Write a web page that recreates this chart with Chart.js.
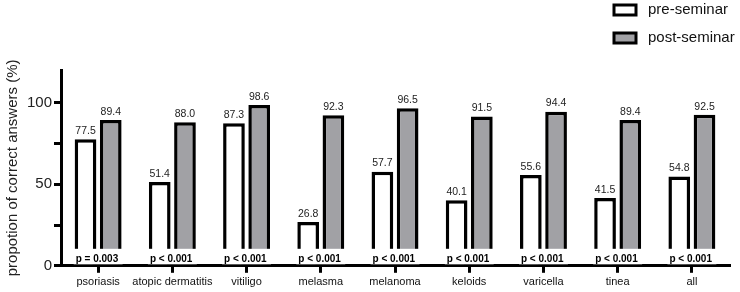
<!DOCTYPE html>
<html>
<head>
<meta charset="utf-8">
<script src="https://cdn.jsdelivr.net/npm/chart.js@4"></script>
<style>
  html, body { margin: 0; padding: 0; background: #fff; }
  #wrap { width: 740px; height: 292px; }
</style>
</head>
<body>
<div id="wrap"><canvas id="chart"></canvas></div>
<script>
const categories = ["psoriasis", "atopic dermatitis", "vitiligo", "melasma", "melanoma", "keloids", "varicella", "tinea", "all"];
const preSeminar = [77.5, 51.4, 87.3, 26.8, 57.7, 40.1, 55.6, 41.5, 54.8];
const postSeminar = [89.4, 88.0, 98.6, 92.3, 96.5, 91.5, 94.4, 89.4, 92.5];
const pValues = ["p = 0.003", "p < 0.001", "p < 0.001", "p < 0.001", "p < 0.001", "p < 0.001", "p < 0.001", "p < 0.001", "p < 0.001"];
const yTicks = [0, 25, 50, 75, 100];
const yLabelled = [0, 50, 100];

const FONT = "'Liberation Sans', Arial, sans-serif";

// value labels above bars + p-values on a white strip under each pair
const barLabels = {
  id: "barLabels",
  afterDatasetsDraw(chart) {
    const ctx = chart.ctx;
    ctx.save();
    ctx.fillStyle = "#222";
    ctx.font = "10.5px " + FONT;
    ctx.textAlign = "center";
    ctx.textBaseline = "bottom";
    chart.data.datasets.forEach((ds, di) => {
      chart.getDatasetMeta(di).data.forEach((bar, i) => {
        ctx.fillText(ds.data[i].toFixed(1), bar.x, bar.y - 3);
      });
    });
    const pre = chart.getDatasetMeta(0).data;
    const post = chart.getDatasetMeta(1).data;
    const yBase = chart.scales.y.getPixelForValue(0);
    pValues.forEach((p, i) => {
      const l = pre[i].x - pre[i].width / 2 - 1;
      const r = post[i].x + post[i].width / 2 + 1;
      ctx.fillStyle = "#fff";
      ctx.fillRect(l, yBase - 17, r - l, 15.5);
    });
    ctx.font = "bold 10px " + FONT;
    ctx.fillStyle = "#000";
    ctx.textAlign = "left";
    ctx.textBaseline = "alphabetic";
    pValues.forEach((p, i) => {
      const b = pre[i];
      ctx.fillText(p, b.x - b.width / 2 + 1, yBase - 4);
    });
    ctx.restore();
  }
};

// stacked legend in the top right corner
const cornerLegend = {
  id: "cornerLegend",
  afterDraw(chart) {
    const ctx = chart.ctx;
    ctx.save();
    ctx.font = "15px " + FONT;
    ctx.textBaseline = "middle";
    chart.data.datasets.forEach((ds, i) => {
      const y = 10 + i * 28;
      ctx.fillStyle = ds.backgroundColor;
      ctx.fillRect(614, y - 5, 22, 10);
      ctx.lineWidth = 3;
      ctx.strokeStyle = "#000";
      ctx.strokeRect(614, y - 5, 22, 10);
      ctx.fillStyle = "#111";
      ctx.fillText(ds.label, 648, y);
    });
    ctx.restore();
  }
};

new Chart(document.getElementById("chart"), {
  type: "bar",
  data: {
    labels: categories,
    datasets: [
      { label: "pre-seminar", data: preSeminar, backgroundColor: "#ffffff", borderColor: "#000", borderWidth: 3.5, borderSkipped: "bottom" },
      { label: "post-seminar", data: postSeminar, backgroundColor: "#a1a1a5", borderColor: "#000", borderWidth: 3.5, borderSkipped: "bottom" }
    ]
  },
  options: {
    responsive: true,
    maintainAspectRatio: false,
    animation: false,
    datasets: { bar: { categoryPercentage: 0.68, barPercentage: 0.86 } },
    layout: { padding: { top: 70, right: 11, left: 4, bottom: 0 } },
    plugins: { legend: { display: false }, tooltip: { enabled: false } },
    scales: {
      x: {
        grid: { display: true, drawOnChartArea: false, drawTicks: true, offset: false, tickLength: 7, color: "#000", lineWidth: 3 },
        border: { color: "#000", width: 3 },
        ticks: { color: "#111", font: { family: FONT, size: 11 }, padding: 3, maxRotation: 0, autoSkip: false }
      },
      y: {
        min: 0,
        max: 120,
        afterBuildTicks(scale) { scale.ticks = yTicks.map(v => ({ value: v })); },
        grid: { display: true, drawOnChartArea: false, drawTicks: true, tickLength: 7, color: "#000", lineWidth: 3 },
        border: { color: "#000", width: 3 },
        ticks: {
          color: "#222",
          font: { family: FONT, size: 15 },
          padding: 2,
          callback: v => yLabelled.includes(v) ? String(v) : ""
        },
        title: { display: true, text: "propotion of correct answers (%)", color: "#222", font: { family: FONT, size: 15 }, padding: { top: 0, bottom: 3 } }
      }
    }
  },
  plugins: [barLabels, cornerLegend]
});
</script>
</body>
</html>
